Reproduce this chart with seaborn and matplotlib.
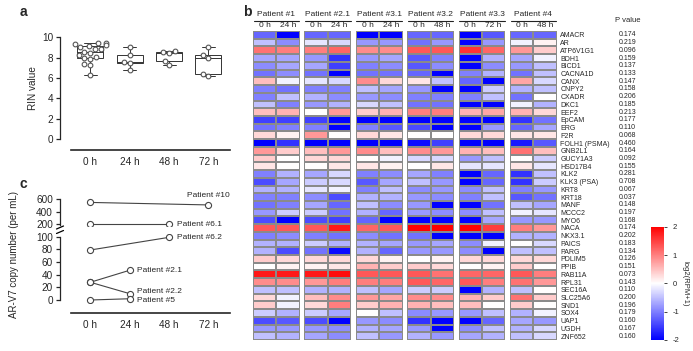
import numpy as np
import pandas as pd
import matplotlib
matplotlib.use("Agg")
import matplotlib.pyplot as plt
import matplotlib.transforms as mtransforms
from matplotlib.lines import Line2D
import seaborn as sns

sns.set_style("ticks")
plt.rcParams["font.family"] = ["Liberation Sans", "DejaVu Sans"]
plt.rcParams["axes.unicode_minus"] = False

# ---------------- data: panel a (RIN values) ----------------
rin_times = ["0 h", "24 h", "48 h", "72 h"]
rin_0h = [9.4, 9.4, 9.3, 9.2, 9.1, 9.0, 8.9, 8.9, 8.6, 8.5, 8.3, 8.1, 8.0, 7.9, 7.4, 7.3, 6.3]
rin_24h = [9.0, 8.3, 7.6, 7.5, 6.8]
rin_48h = [8.7, 8.6, 8.5, 7.7, 7.3]
rin_72h = [9.0, 8.3, 8.0, 6.4, 6.2]

# ---------------- data: panel c (AR-V7 copies) ----------------
c_patients = ["Patient #10", "Patient #6.1", "Patient #6.2", "Patient #2.1", "Patient #2.2", "Patient #5"]
c_start_hour = [0, 0, 0, 0, 0, 0]
c_end_hour = [72, 48, 48, 24, 24, 24]
c_start_val = [550, 200, 79, 28, 28, 0]
c_end_val = [510, 200, 99, 47, 10, 2]

# ---------------- data: panel b (heatmap) ----------------
genes = ["AMACR", "AR", "ATP6V1G1", "BDH1", "BICD1", "CACNA1D", "CANX", "CNPY2", "CXADR", "DKC1",
         "EEF2", "EpCAM", "ERG", "F2R", "FOLH1 (PSMA)", "GNB2L1", "GUCY1A3", "HSD17B4", "KLK2", "KLK3 (PSA)",
         "KRT8", "KRT18", "MANF", "MCCC2", "MYO6", "NACA", "NKX3.1", "PAICS", "PARG", "PDLIM5",
         "PPIB", "RAB11A", "RPL31", "SEC16A", "SLC25A6", "SND1", "SOX4", "UAP1", "UGDH", "ZNF652"]
p_values = [0.174, 0.219, 0.096, 0.159, 0.137, 0.133, 0.147, 0.158, 0.206, 0.185,
            0.213, 0.177, 0.110, 0.068, 0.460, 0.164, 0.092, 0.155, 0.281, 0.708,
            0.067, 0.037, 0.148, 0.197, 0.168, 0.174, 0.202, 0.183, 0.134, 0.126,
            0.151, 0.073, 0.143, 0.110, 0.200, 0.196, 0.179, 0.160, 0.167, 0.160]

patients_b = ["Patient #1", "Patient #2.1", "Patient #3.1", "Patient #3.2", "Patient #3.3", "Patient #4"]
later_times = ["24 h", "24 h", "24 h", "48 h", "72 h", "48 h"]

p1_0h = [-1.2, -0.5, 1.1, -0.7, -0.9, -1.1, 0.5, -1.0, -1.0, -0.5, 0.5, -1.5, -1.1, 0.3, -2.0, 0.8, 0.4, 0.2, -1.0, -1.4,
         -0.6, -1.0, -1.1, -0.8, -1.4, 1.3, -1.0, -0.6, -0.6, 0.4, 0.0, 1.8, 0.9, -0.5, 0.3, 0.4, -0.4, -1.4, -0.8, -0.5]
p1_24h = [-2.0, -0.9, 1.0, -0.7, -0.7, -0.9, -0.1, -1.1, -0.5, -1.0, 0.6, -1.5, -1.0, 0.1, -1.6, 0.4, 0.0, 0.0, -0.6, -0.7,
          -0.6, -1.0, -1.0, -0.4, -2.0, 1.3, -0.9, -0.6, -1.4, 0.3, 0.1, 1.8, 0.9, -0.5, -0.1, -0.1, -0.6, -1.3, -0.8, -0.6]
p21_0h = [-1.2, -0.2, 1.0, -0.8, -0.7, -1.1, -0.2, -1.0, -0.6, -0.8, 0.0, -1.5, -1.0, 0.8, -2.0, 0.5, 0.3, 0.0, -0.7, -0.4,
          -0.2, -0.9, -0.7, -0.4, -1.4, 1.3, -1.0, -0.4, -1.1, 0.3, 0.1, 1.8, 0.8, -0.6, 0.5, 0.3, -0.4, -1.4, -0.8, -0.7]
p21_24h = [-1.2, -0.3, 1.2, -1.6, -1.5, -2.0, -0.3, -1.0, -0.9, -0.6, 0.8, -2.0, -2.0, 0.0, -2.0, 0.8, 0.3, 0.2, -0.3, -0.3,
           -0.1, -1.4, -1.2, -1.1, -1.5, 1.8, -1.1, -0.6, -1.9, 0.3, 0.2, 1.9, 1.0, -0.6, 0.9, 1.0, -0.7, -2.0, -0.9, -0.9]
p31_0h = [-2.0, -0.8, 0.9, -0.8, -1.0, -1.1, 0.9, -0.5, -0.8, -0.3, 0.4, -2.0, -1.0, 0.3, -2.0, 0.9, 0.0, 0.2, -1.0, -1.3,
          -1.0, -0.6, -0.5, -0.6, -1.2, 1.2, -0.9, -0.6, -0.6, 0.3, 0.6, 1.3, 1.0, -0.5, 0.8, 0.4, 0.0, -0.8, -0.6, -0.5]
p31_24h = [-2.0, -0.8, 0.9, -0.7, -0.9, -1.1, 0.3, -0.7, -0.9, -0.5, 0.6, -2.0, -1.3, 0.2, -2.0, 0.5, -0.1, 0.1, -0.9, -0.7,
           -0.5, -0.6, -0.9, -1.2, -2.0, 1.3, -1.1, -0.7, -1.2, 0.1, 0.4, 1.3, 1.0, -0.7, 0.7, 0.6, -0.5, -0.9, -0.7, -0.8]
p32_0h = [-1.2, -1.1, 1.3, -1.3, -1.3, -1.2, 0.2, -0.8, -1.0, -1.1, 1.0, -2.0, -1.4, 0.0, -1.9, 0.9, -0.3, 0.0, -0.7, -0.5,
          -0.9, -0.8, -0.8, -0.8, -2.0, 2.0, -1.1, -0.8, -0.8, 0.0, 0.4, 1.3, 1.3, -0.4, 0.9, 0.6, -0.9, -1.6, -0.8, -0.6]
p32_48h = [-1.2, -0.8, 1.3, -1.0, -0.9, -2.0, -0.5, -2.0, -1.0, -1.1, 1.0, -2.0, -2.0, 0.0, -1.5, 0.8, -0.3, 0.2, -1.0, -0.8,
           -0.8, -0.9, -2.0, -0.9, -2.0, 2.0, -2.0, -0.7, -0.8, 0.1, 0.3, 1.1, 1.2, -0.4, 0.9, 0.5, -0.8, -2.0, -2.0, -0.8]
p33_0h = [-2.0, -2.0, 1.6, -2.0, -2.0, -1.0, -1.2, -2.0, -1.0, -2.0, 0.6, -2.0, -2.0, 0.3, -2.0, 0.6, -0.8, -0.2, -2.0, -2.0,
          -0.9, -1.0, -2.0, -0.9, -2.0, 2.0, -2.0, -0.9, -0.9, 0.3, 0.0, 1.2, 1.3, -2.0, 0.6, 0.5, -0.8, -2.0, -0.9, -0.7]
p33_72h = [-1.3, -0.8, 1.2, -0.6, -0.9, -0.6, -2.0, -0.4, -0.5, -2.0, 0.7, -2.0, -0.8, 0.3, -2.0, 0.5, -0.5, -0.2, -1.2, -1.2,
           -0.5, -0.5, -1.1, -0.5, -0.7, 1.5, -2.0, -0.1, -2.0, 0.3, 0.1, 1.2, 1.0, -0.6, 0.4, 0.0, -0.5, -1.2, -0.5, -0.6]
p4_0h = [-1.2, -0.1, 0.8, -0.7, -0.8, -1.1, 0.7, -0.6, -1.1, -0.1, 0.6, -1.6, -1.2, 0.2, -1.8, 1.1, 0.0, 0.2, -1.6, -1.6,
         -1.0, -1.3, -0.5, -0.1, -0.8, 1.0, -0.6, 0.0, -0.5, 0.3, 0.4, 1.3, 1.1, -0.5, 1.1, 0.4, -0.6, -0.7, -0.6, -0.5]
p4_48h = [-1.2, 0.1, 0.4, -0.1, -0.5, -0.5, -0.3, -0.5, 0.0, -0.6, 0.3, -1.1, -0.7, 0.2, -1.3, 0.5, -0.4, -0.2, -0.5, -0.4,
          -0.8, -1.1, -0.7, -0.2, -0.8, 0.8, -0.6, -0.3, -0.5, 0.3, 0.0, 1.0, 0.8, 0.0, 0.4, 0.0, -0.1, -0.8, -0.3, -0.3]

block_values = [(p1_0h, p1_24h), (p21_0h, p21_24h), (p31_0h, p31_24h),
                (p32_0h, p32_48h), (p33_0h, p33_72h), (p4_0h, p4_48h)]

# ---------------- figure ----------------
W, H = 693, 351
fig = plt.figure(figsize=(W / 100, H / 100), dpi=100)


def rect(x0, y0, x1, y1):
    return [x0 / W, 1 - y1 / H, (x1 - x0) / W, (y1 - y0) / H]


def fx(x):
    return x / W


def fy(y):
    return 1 - y / H


TXT = 7.2
EDGE = "#444444"

# ---------------- panel a ----------------
axa = fig.add_axes(rect(70.7, 37.3, 230, 139.3))
dfa = pd.DataFrame({
    "time": ["0 h"] * len(rin_0h) + ["24 h"] * len(rin_24h) + ["48 h"] * len(rin_48h) + ["72 h"] * len(rin_72h),
    "rin": rin_0h + rin_24h + rin_48h + rin_72h,
})
sns.boxplot(data=dfa, x="time", y="rin", order=rin_times, ax=axa, width=0.66, whis=(0, 100),
            color="white", linecolor="#333333", linewidth=0.7, showfliers=False)
sns.swarmplot(data=dfa, x="time", y="rin", order=rin_times, ax=axa, size=3.4, color="white",
              edgecolor="#555555", linewidth=0.8, zorder=5)
axa.set_xlim(-0.5, 3.55)
axa.set_ylim(0, 10)
axa.set_yticks([0, 2, 4, 6, 8, 10])
axa.set_xlabel("")
axa.set_ylabel("RIN value", fontsize=TXT, labelpad=3)
for s in ["top", "right"]:
    axa.spines[s].set_visible(False)
axa.spines["left"].set_position(("outward", 7.7))
axa.spines["bottom"].set_position(("outward", 7.7))
axa.spines["left"].set_linewidth(0.9)
axa.spines["bottom"].set_linewidth(1.2)
axa.tick_params(axis="y", labelsize=TXT, length=3, width=0.9, pad=2)
axa.tick_params(axis="x", labelsize=TXT, length=0, pad=5)
for c in axa.collections:
    c.set_clip_on(False)

# ---------------- panel c ----------------
px_per_low = (300 - 236.7) / 100.0
px_per_up = (224.3 - 199.3) / 400.0
low_lim = (-4, 104)
up_lim = (170, 630)
axc_low = fig.add_axes(rect(70.7, 236.7 - (low_lim[1] - 100) * px_per_low, 230, 300 + (0 - low_lim[0]) * px_per_low))
axc_up = fig.add_axes(rect(70.7, 199.3 - (up_lim[1] - 600) * px_per_up, 230, 224.3 + (200 - up_lim[0]) * px_per_up))

rows = []
for name, h0, h1, v0, v1 in zip(c_patients, c_start_hour, c_end_hour, c_start_val, c_end_val):
    rows.append({"patient": name, "hour": h0, "copies": v0})
    rows.append({"patient": name, "hour": h1, "copies": v1})
dfc = pd.DataFrame(rows)

for ax in (axc_low, axc_up):
    sns.lineplot(data=dfc, x="hour", y="copies", units="patient", estimator=None, ax=ax,
                 color=EDGE, linewidth=0.8, marker="o", markersize=4.4, markerfacecolor="white",
                 markeredgecolor=EDGE, markeredgewidth=0.8, legend=False)
    ax.set_xlim(-12, 85.2)
    ax.set_xlabel("")
    ax.set_ylabel("")
    for s in ["top", "right"]:
        ax.spines[s].set_visible(False)
    ax.spines["left"].set_position(("outward", 7.7))
    ax.spines["left"].set_linewidth(0.9)
    ax.tick_params(axis="y", labelsize=TXT, length=3, width=0.9, pad=2)

axc_low.set_ylim(*low_lim)
axc_low.set_yticks([0, 20, 40, 60, 80, 100])
axc_low.spines["left"].set_bounds(0, 100)
axc_low.spines["bottom"].set_position(("outward", 7.3))
axc_low.spines["bottom"].set_linewidth(1.2)
axc_low.set_xticks([0, 24, 48, 72])
axc_low.set_xticklabels(rin_times)
axc_low.tick_params(axis="x", labelsize=TXT, length=0, pad=5)

axc_up.set_ylim(*up_lim)
axc_up.set_yticks([200, 400, 600])
axc_up.spines["left"].set_bounds(185, 600)
axc_up.spines["bottom"].set_visible(False)
axc_up.set_xticks([])

# break marks on the y axis
for yy in (227.5, 232.0):
    fig.add_artist(Line2D([fx(56.5), fx(63.5)], [fy(yy + 1.5), fy(yy - 1.5)], color="k", lw=0.9))

fig.text(fx(14), fy(254), "AR-V7 copy number (per mL)", rotation=90, ha="center", va="center", fontsize=7)

# patient labels
label_offsets = {
    "Patient #10": (0, 7.0, "center"),
    "Patient #6.1": (5.5, 0, "left"),
    "Patient #6.2": (5.5, 0, "left"),
    "Patient #2.1": (5.5, 0, "left"),
    "Patient #2.2": (5.5, 1.7, "left"),
    "Patient #5": (5.5, -1.0, "left"),
}
for name, h1, v1 in zip(c_patients, c_end_hour, c_end_val):
    ax = axc_up if v1 >= 150 else axc_low
    dx, dy, ha = label_offsets[name]
    ax.annotate(name, xy=(h1, v1), xytext=(dx, dy), textcoords="offset points",
                ha=ha, va="center", fontsize=6)

# ---------------- panel b ----------------
block_x0 = [253 + 51.4 * k for k in range(6)]
block_w = 46.7
y_top, y_bot = 31, 340
cax = fig.add_axes(rect(651, 226.7, 664, 340))
heat_axes = []
for k, (pname, later, (v0, v1)) in enumerate(zip(patients_b, later_times, block_values)):
    x0 = block_x0[k]
    ax = fig.add_axes(rect(x0, y_top, x0 + block_w, y_bot))
    dfb = pd.DataFrame({"0 h": v0, later: v1}, index=genes)
    sns.heatmap(dfb, ax=ax, cmap="bwr", vmin=-2, vmax=2,
                cbar=(k == 0), cbar_ax=(cax if k == 0 else None),
                linewidths=0.25, linecolor="#8a8a8a",
                xticklabels=True, yticklabels=(k == 5))
    ax.xaxis.tick_top()
    ax.tick_params(axis="x", length=0, pad=1.2, labelsize=6)
    for t in ax.get_xticklabels():
        t.set_rotation(0)
    if k == 5:
        ax.yaxis.tick_right()
        ax.tick_params(axis="y", length=0, pad=2.6, labelsize=5)
        for t in ax.get_yticklabels():
            t.set_rotation(0)
            t.set_ha("left")
    else:
        ax.set_yticks([])
    ax.set_xlabel("")
    ax.set_ylabel("")
    fig.text(fx(x0 + block_w / 2), fy(15), pname, ha="center", va="center", fontsize=6)
    fig.add_artist(Line2D([fx(x0 + 0.5), fx(x0 + block_w - 0.5)], [fy(20.7), fy(20.7)], color="#222222", lw=0.8))
    heat_axes.append(ax)

last = heat_axes[-1]
trans = mtransforms.blended_transform_factory(fig.transFigure, last.transData)
for i, p in enumerate(p_values):
    last.text(fx(627.5), i + 0.5, f"{p:.3f}", transform=trans, ha="center", va="center", fontsize=5)
fig.text(fx(628), fy(20), "P value", ha="center", va="center", fontsize=5.5)

cbar = heat_axes[0].collections[0].colorbar
cbar.set_ticks([-2, -1, 0, 1, 2])
cbar.ax.tick_params(labelsize=5.5, length=2.5, width=0.6, pad=3.5)
cbar.outline.set_visible(False)
cbar.set_label("log2(RPM+1)", rotation=270, fontsize=5.5, labelpad=7)

# panel letters
fig.text(fx(20), fy(12), "a", fontsize=10, fontweight="bold", ha="left", va="center")
fig.text(fx(243), fy(12), "b", fontsize=10, fontweight="bold", ha="left", va="center")
fig.text(fx(20), fy(184), "c", fontsize=10, fontweight="bold", ha="left", va="center")

fig.savefig("out.png", dpi=100)
